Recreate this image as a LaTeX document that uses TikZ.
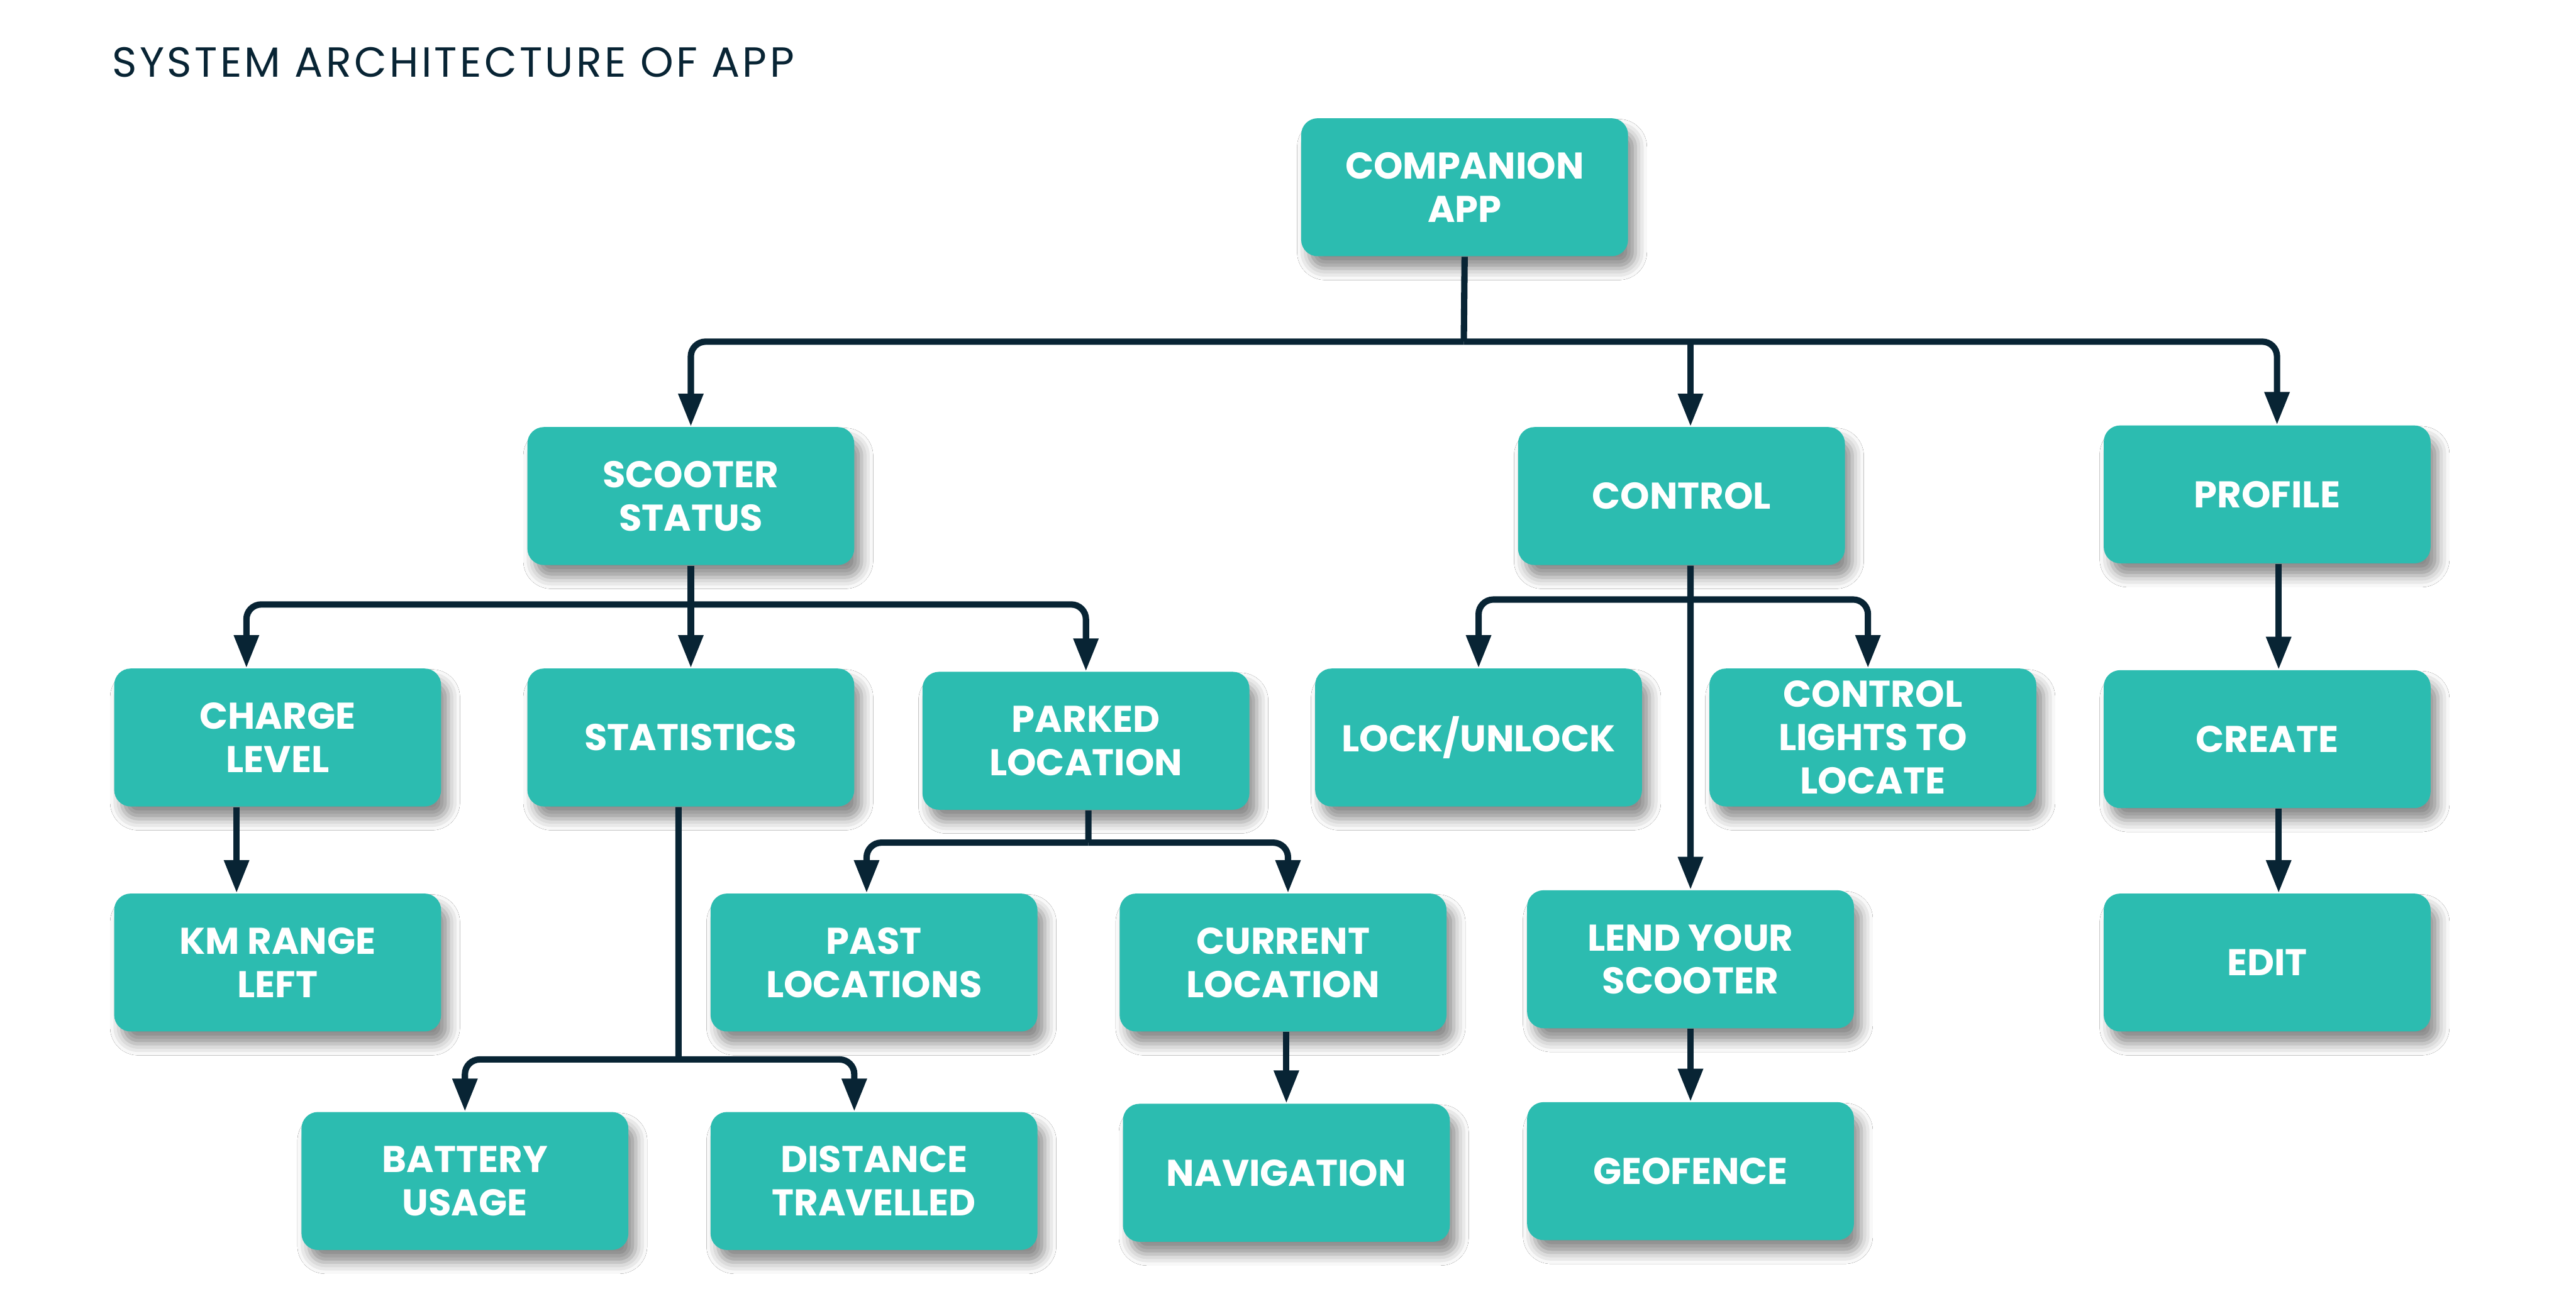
\documentclass[tikz,border=0pt]{standalone}
\usepackage{fontspec}
\setmainfont{Poppins}
\newfontfamily\boxfont{Poppins}
\newfontfamily\titlefont{Poppins}[LetterSpace=6.5]
\usetikzlibrary{arrows.meta,shadows.blur,calc}
\definecolor{teal}{RGB}{44,188,176}
\definecolor{navy}{RGB}{8,36,52}
\tikzset{
  card/.style={rectangle, rounded corners=0.2cm, fill=teal, minimum width=3.98cm, minimum height=1.68cm,
    inner sep=0pt, align=center, text=white,
    font=\boxfont\bfseries\fontsize{12.9}{15}\selectfont,
    blur shadow={shadow xshift=0.09cm, shadow yshift=-0.15cm, shadow blur radius=0.14cm, shadow opacity=45}},
  conn/.style={draw=navy, line width=2.2pt, rounded corners=0.18cm},
  arr/.style={conn, -{Triangle[length=0.4cm,width=0.29cm]}},
}
\begin{document}
\begin{tikzpicture}[x=0.02cm,y=-0.02cm]
\fill[white] (0,0) rectangle (1568,798);
\useasboundingbox (0,0) rectangle (1568,798);

\node[anchor=base west, text=navy, font=\titlefont\fontsize{14.6}{16}\selectfont, inner sep=0pt] (title) at (68,47) {SYSTEM ARCHITECTURE OF APP};

\node[card] (app) at (891.5,114) {COMPANION\\APP};
\node[card] (ss) at (420.5,302) {SCOOTER\\STATUS};
\node[card] (ctrl) at (1023.5,302) {CONTROL};
\node[card] (prof) at (1380,301) {PROFILE};
\node[card] (cl) at (169,449) {CHARGE\\LEVEL};
\node[card] (stat) at (420.5,449) {STATISTICS};
\node[card] (park) at (661,451) {PARKED\\LOCATION};
\node[card] (lock) at (900,449) {LOCK/UNLOCK};
\node[card] (lights) at (1140,449) {CONTROL\\LIGHTS TO\\LOCATE};
\node[card] (create) at (1380,450) {CREATE};
\node[card] (km) at (169,586) {KM RANGE\\LEFT};
\node[card] (past) at (532,586) {PAST\\LOCATIONS};
\node[card] (cur) at (781,586) {CURRENT\\LOCATION};
\node[card] (lend) at (1029,584) {LEND YOUR\\SCOOTER};
\node[card] (edit) at (1380,586) {EDIT};
\node[card] (bat) at (283,719) {BATTERY\\USAGE};
\node[card] (dist) at (532,719) {DISTANCE\\TRAVELLED};
\node[card] (nav) at (783,714) {NAVIGATION};
\node[card] (geo) at (1029,713) {GEOFENCE};

\coordinate (b1) at (891,208);
\coordinate (b2) at (420.5,368);
\coordinate (b3) at (1029,365);
\coordinate (b4) at (413,645);
\coordinate (b5) at (662.5,513);

% companion app
\draw[conn] (app.south) -- (b1);
\draw[arr] (b1) -| (ss.north);
\draw[arr] (b1) -| ([xshift=0.12cm]prof.north);
\draw[arr] ([xshift=0.11cm]ctrl.north |- b1) -- ([xshift=0.11cm]ctrl.north);

% scooter status
\draw[arr] (ss.south) -- (stat.north);
\draw[arr] (b2) -| ([xshift=-0.38cm]cl.north);
\draw[arr] (b2) -| (park.north);
\draw[arr] ([xshift=-0.5cm]cl.south) -- ([xshift=-0.5cm]km.north);

% statistics
\draw[conn] ([xshift=-0.15cm]stat.south) -- (b4);
\draw[arr] (b4) -| (bat.north);
\draw[arr] (b4) -| ([xshift=-0.24cm]dist.north);

% parked location
\draw[conn] ([xshift=0.03cm]park.south) -- (b5);
\draw[arr] (b5) -| ([xshift=-0.09cm]past.north);
\draw[arr] (b5) -| ([xshift=0.06cm]cur.north);
\draw[arr] ([xshift=0.04cm]cur.south) -- ([xshift=0.04cm]cur.south |- nav.north);

% control
\draw[arr] ([xshift=0.11cm]ctrl.south) -- (lend.north);
\draw[arr] (b3) -| (lock.north);
\draw[arr] (b3) -| ([xshift=-0.06cm]lights.north);
\draw[arr] (lend.south) -- (geo.north);

% profile
\draw[arr] ([xshift=0.14cm]prof.south) -- ([xshift=0.14cm]create.north);
\draw[arr] ([xshift=0.14cm]create.south) -- ([xshift=0.14cm]edit.north);
\end{tikzpicture}
\end{document}
